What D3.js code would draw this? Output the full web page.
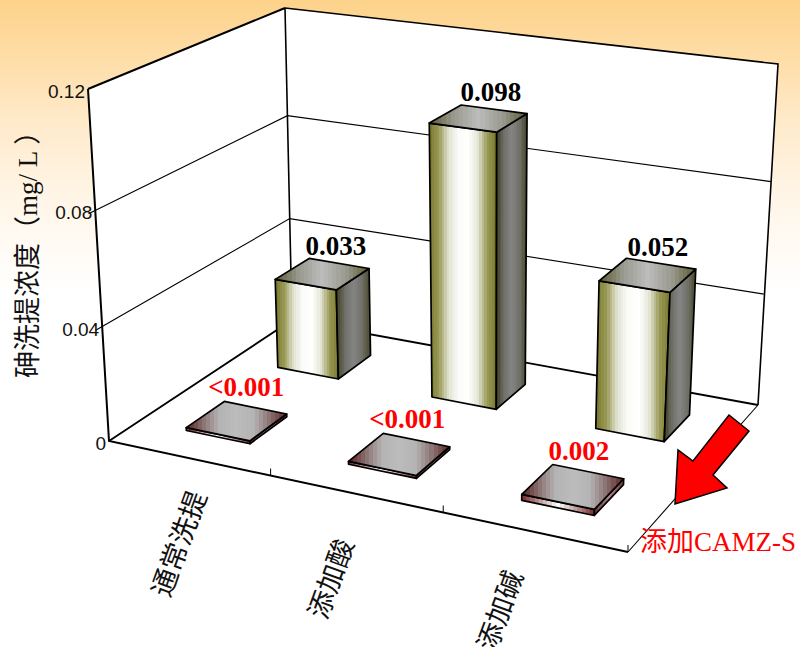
<!DOCTYPE html>
<html lang="zh">
<head>
  <meta charset="UTF-8">
  <title>砷洗提浓度</title>
  <script src="https://d3js.org/d3.v7.min.js"></script>
  <style>
    html, body { margin: 0; padding: 0; background: #fff; overflow: hidden; }
    svg { display: block; }
    text { font-family: "Liberation Sans", sans-serif; }
    .val { font-family: "Liberation Serif", serif; font-weight: bold; font-size: 27px; text-anchor: middle; }
    .cjk { font-family: "Noto Sans CJK SC", sans-serif; }
  </style>
</head>
<body>
<svg id="chart" width="800" height="647"></svg>
<script>
  const categories = ['通常洗提', '添加酸', '添加碱'];
  const rows = ['添加CAMZ-S', '未添加'];            // front row first
  const backValues = [0.033, 0.098, 0.052];
  const frontValues = [0.001, 0.001, 0.002];
  const backLabels = ['0.033', '0.098', '0.052'];
  const frontLabels = ['<0.001', '<0.001', '0.002'];
  const yTicks = [0, 0.04, 0.08, 0.12];
  const yTickLabels = ['0', '0.04', '0.08', '0.12'];

  const W = 800, H = 647;
  const svg = d3.select('#chart');
  const defs = svg.append('defs');

  // unit square -> quad (u along categories, v into the page)
  function quadMap(p00, p10, p11, p01) {
    const dx1 = p10[0]-p11[0], dx2 = p01[0]-p11[0], sx = p00[0]-p10[0]+p11[0]-p01[0];
    const dy1 = p10[1]-p11[1], dy2 = p01[1]-p11[1], sy = p00[1]-p10[1]+p11[1]-p01[1];
    const det = dx1*dy2-dx2*dy1;
    const g = (sx*dy2-dx2*sy)/det, h = (dx1*sy-sx*dy1)/det;
    const a = p10[0]-p00[0]+g*p10[0], b = p01[0]-p00[0]+h*p01[0], c = p00[0];
    const d = p10[1]-p00[1]+g*p10[1], e = p01[1]-p00[1]+h*p01[1], f = p00[1];
    return (u, v) => {
      const k = g*u+h*v+1;
      return [(a*u+b*v+c)/k, (d*u+e*v+f)/k];
    };
  }

  const floorAt = quadMap([109,441], [628,552], [758,405], [292,320]);
  const roofAt  = quadMap([88,89], [642,168], [778,64], [285,8]);

  const x = d3.scaleBand().domain(categories).range([0,1]).paddingInner(0.6).paddingOuter(0.3);
  const z = d3.scaleBand().domain(rows).range([0,1]).paddingInner(0.6).paddingOuter(0.3);
  const y = d3.scaleLinear().domain(yTicks).range([0,0.325,0.655,1]);

  // value is a fraction of the wall height after y()
  function P(u, v, val) {
    const a = floorAt(u, v), b = roofAt(u, v), t = y(val);
    return [a[0]+(b[0]-a[0])*t, a[1]+(b[1]-a[1])*t];
  }

  function bandGradient(id, colors, n) {
    const col = d3.scaleLinear().domain(colors.map((c,i) => i/(colors.length-1))).range(colors);
    const g = defs.append('linearGradient').attr('id', id)
      .attr('x1',0).attr('x2',1).attr('y1',0).attr('y2',0);
    d3.range(n).forEach(i => {
      const c = col((i+0.5)/n);
      g.append('stop').attr('offset', i/n).attr('stop-color', c);
      g.append('stop').attr('offset', (i+1)/n).attr('stop-color', c);
    });
  }

  const bg = defs.append('linearGradient').attr('id','bg')
    .attr('x1',0).attr('x2',0).attr('y1',0).attr('y2',1);
  [[0,'#fdd28a'],[0.08,'#fedca4'],[0.18,'#ffe9c8'],[0.3,'#fff5e6'],[0.45,'#ffffff'],[1,'#ffffff']]
    .forEach(s => bg.append('stop').attr('offset',s[0]).attr('stop-color',s[1]));

  bandGradient('barFront', ['#77772a','#9a9a58','#dfe2d0','#fbfbf8','#ffffff','#e6e8da','#9a9a58','#77772a'], 27);
  bandGradient('barSide',  ['#3f3f20','#70706a','#848484','#707068','#45452a'], 19);
  bandGradient('barTop',   ['#5a5a30','#9a9a90','#bcbcbc','#9a9a90','#5a5a30'], 23);
  bandGradient('plateTop', ['#5a2020','#8a7070','#b4b4b4','#bcbcbc','#b4b4b4','#8a7070','#5a2020'], 25);
  bandGradient('plateFront', ['#7a2a2a','#c09a9a','#ffffff','#c09a9a','#7a2a2a'], 17);
  bandGradient('plateSide', ['#6a3030','#b08a8a','#7a3a3a'], 7);

  const line = d3.line();
  const closed = pts => line(pts) + 'Z';

  svg.append('rect').attr('width',W).attr('height',H).attr('fill','url(#bg)');

  // walls and floor
  svg.append('path').attr('fill','#fff')
    .attr('d', closed([P(0,0,0.12), P(0,1,0.12), P(1,1,0.12), P(1,1,0), P(1,0,0), P(0,0,0)]));

  const frame = svg.append('g').attr('fill','none').attr('stroke','#000');
  yTicks.slice(1,3).forEach(t => {
    frame.append('path').attr('stroke-width',1.1)
      .attr('d', line([P(0,-0.03,t), P(0,1,t), P(1,1,t)]));
  });
  frame.append('path').attr('stroke-width',2).attr('d', line([P(0,0,0.12), P(0,1,0.12)]));
  frame.append('path').attr('stroke-width',1.6).attr('d', line([P(0,1,0.12), P(1,1,0.12), P(1,1,0)]));
  frame.append('path').attr('stroke-width',1.6).attr('d', line([P(0,1,0), P(0,1,0.12)]));
  frame.append('path').attr('stroke-width',1.8).attr('d', line([P(0,0,0), P(0,1,0), P(1,1,0)]));
  frame.append('path').attr('stroke-width',1.1).attr('d', line([P(1,1,0), P(1,0,0)]));
  frame.append('path').attr('stroke-width',2).attr('d', line([P(0,0,0.12), P(0,0,0), P(1,0,0)]));

  // category ticks on the front edge
  d3.range(1, categories.length+1).forEach(i => {
    const u = i/categories.length, p = P(u,0,0);
    frame.append('path').attr('stroke-width',1).attr('d', line([p, [p[0], p[1]-7]]));
  });

  function drawBox(g, cat, row, val, faces) {
    const u0 = x(cat), u1 = u0+x.bandwidth(), v0 = z(row), v1 = v0+z.bandwidth();
    const box = g.append('g').attr('stroke','#000').attr('stroke-width',1.7).attr('stroke-linejoin','round');
    box.append('path').attr('fill',`url(#${faces.front})`)
      .attr('d', closed([P(u0,v0,0), P(u1,v0,0), P(u1,v0,val), P(u0,v0,val)]));
    box.append('path').attr('fill',`url(#${faces.side})`)
      .attr('d', closed([P(u1,v0,0), P(u1,v1,0), P(u1,v1,val), P(u1,v0,val)]));
    box.append('path').attr('fill',`url(#${faces.top})`)
      .attr('d', closed([P(u0,v0,val), P(u1,v0,val), P(u1,v1,val), P(u0,v1,val)]));
    return P((u0+u1)/2, v1, val);
  }

  const marks = svg.append('g');
  const texts = svg.append('g');

  categories.forEach((c,i) => {
    const p = drawBox(marks, c, rows[1], backValues[i], {front:'barFront', side:'barSide', top:'barTop'});
    texts.append('text').attr('class','val').attr('fill','#000')
      .attr('x', p[0]-3).attr('y', p[1]-8).text(backLabels[i]);
  });
  categories.forEach((c,i) => {
    const p = drawBox(marks, c, rows[0], frontValues[i], {front:'plateFront', side:'plateSide', top:'plateTop'});
    texts.append('text').attr('class','val').attr('fill','#f00')
      .attr('x', p[0]-9).attr('y', p[1]-12).text(frontLabels[i]);
  });

  // y tick labels
  yTicks.forEach((t,i) => {
    const p = P(0,0,t);
    texts.append('text').attr('x', p[0]-3).attr('y', p[1]+9)
      .attr('text-anchor','end').attr('font-size',19).attr('fill','#111').text(yTickLabels[i]);
  });

  // y title
  const yTitle = texts.append('text').attr('transform','translate(37,378) rotate(-90)')
    .attr('font-size',27).attr('fill','#111');
  yTitle.append('tspan').attr('class','cjk').text('砷洗提浓度（');
  yTitle.append('tspan').attr('font-family','Liberation Serif').text('mg/ L');
  yTitle.append('tspan').attr('class','cjk').text(' ）');

  // category labels
  const labelX = d3.scaleOrdinal(categories, [177,329,498]);
  const labelY = d3.scaleOrdinal(categories, [543,578,610]);
  categories.forEach(c => {
    texts.append('text').attr('class','cjk').attr('font-size',27.5).attr('fill','#111')
      .attr('text-anchor','middle').attr('dominant-baseline','central')
      .attr('transform',`translate(${labelX(c)},${labelY(c)}) rotate(-70)`).text(c);
  });

  // CAMZ-S annotation
  svg.append('path').attr('fill','#f00').attr('stroke','#000').attr('stroke-width',1.5)
    .attr('d', closed([[675,504],[678,450],[693,461],[729,415],[749,431],[713,475],[727,488]]));
  const note = texts.append('text').attr('x',640).attr('y',551).attr('font-size',27).attr('fill','#f00');
  note.append('tspan').attr('class','cjk').text('添加');
  note.append('tspan').attr('font-family','Liberation Serif').text('CAMZ-S');
</script>
</body>
</html>
